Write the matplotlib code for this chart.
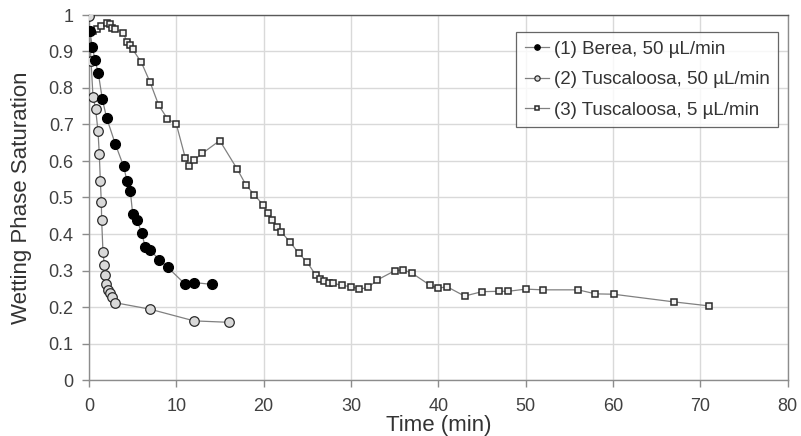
import matplotlib.pyplot as plt
import matplotlib.ticker as mticker

# (1) Berea, 50 uL/min
berea_t = [0.1, 0.38, 0.69, 1.07, 1.53, 2.02, 3.02, 3.97, 4.35, 4.73, 5.0, 5.53,
           6.03, 6.45, 7.03, 8.02, 9.0, 11.03, 12.03, 14.05]
berea_s = [0.955, 0.913, 0.877, 0.84, 0.769, 0.718, 0.646, 0.585, 0.545, 0.518, 0.455, 0.437,
           0.402, 0.364, 0.355, 0.33, 0.309, 0.262, 0.267, 0.262]

# (2) Tuscaloosa, 50 uL/min
tusc50_t = [0.0, 0.23, 0.46, 0.76, 1.03, 1.18, 1.3, 1.41, 1.45, 1.6, 1.76, 1.87,
            1.99, 2.21, 2.4, 2.63, 2.94, 6.99, 12.03, 16.04]
tusc50_s = [0.998, 0.874, 0.776, 0.742, 0.682, 0.618, 0.545, 0.488, 0.438, 0.351, 0.314, 0.288,
            0.264, 0.247, 0.238, 0.228, 0.212, 0.194, 0.162, 0.158]

# (3) Tuscaloosa, 5 uL/min
tusc5_t = [0.2, 0.42, 0.88, 1.41, 2.02, 2.4, 2.67, 2.94, 3.93, 4.32, 4.66, 5.0,
           6.0, 6.99, 7.98, 8.97, 10.0, 11.03, 11.45, 11.99, 12.98, 14.97, 16.99, 17.98,
           18.94, 19.93, 20.47, 21.0, 21.5, 22.03, 23.02, 24.02, 25.0, 25.97, 26.46, 26.96,
           27.45, 27.99, 28.98, 29.98, 30.97, 32.0, 33.0, 34.98, 35.97, 37.03, 39.02, 40.0,
           40.96, 43.0, 45.0, 46.96, 48.0, 50.0, 51.96, 56.0, 57.99, 60.06, 66.97, 71.0]
tusc5_s = [0.955, 0.957, 0.963, 0.97, 0.979, 0.975, 0.965, 0.961, 0.952, 0.927, 0.919, 0.906,
           0.87, 0.816, 0.753, 0.716, 0.701, 0.608, 0.585, 0.602, 0.621, 0.656, 0.577, 0.534,
           0.507, 0.48, 0.458, 0.437, 0.42, 0.405, 0.378, 0.347, 0.322, 0.287, 0.276, 0.27,
           0.267, 0.265, 0.259, 0.256, 0.249, 0.254, 0.274, 0.299, 0.302, 0.292, 0.26, 0.251,
           0.256, 0.23, 0.242, 0.243, 0.243, 0.249, 0.247, 0.247, 0.236, 0.235, 0.214, 0.203]

plt.rcParams['font.family'] = ['Liberation Sans', 'DejaVu Sans']

fig = plt.figure(figsize=(8.01, 4.36), dpi=100)
ax = fig.add_axes([89 / 801, 56 / 436, (787.7 - 89) / 801, (380 - 15) / 436])

line_c = '#808080'
edge_c = '#2b2b2b'

ax.plot(tusc5_t, tusc5_s, color=line_c, lw=0.9, marker='s', ms=5.0,
        mfc='#f2f2f2', mec=edge_c, mew=1.1, label='(3) Tuscaloosa, 5 µL/min', zorder=3)
ax.plot(tusc50_t, tusc50_s, color=line_c, lw=0.9, marker='o', ms=6.9,
        mfc='#d9d9d9', mec=edge_c, mew=0.9, label='(2) Tuscaloosa, 50 µL/min', zorder=4)
ax.plot(berea_t, berea_s, color=line_c, lw=0.9, marker='o', ms=7.1,
        mfc='black', mec='black', mew=0.9, label='(1) Berea, 50 µL/min', zorder=5)

ax.set_xlim(0, 80)
ax.set_ylim(0, 1)
ax.xaxis.set_major_locator(mticker.MultipleLocator(10))
ax.yaxis.set_major_locator(mticker.MultipleLocator(0.1))
ax.yaxis.set_major_formatter(mticker.FuncFormatter(lambda v, p: f'{v:.1f}'.rstrip('0').rstrip('.') if v else '0'))

ax.grid(True, color='#d9d9d9', lw=1.0)
ax.set_axisbelow(True)
for side in ['left', 'bottom', 'right']:
    ax.spines[side].set_color('#8c8c8c')
    ax.spines[side].set_linewidth(1.0)
ax.spines['top'].set_color('#595959')
ax.spines['top'].set_linewidth(1.0)

ax.tick_params(axis='both', direction='out', length=5, width=1, color='#8c8c8c',
               labelsize=13, labelcolor='#404040')
ax.tick_params(axis='x', pad=8)
ax.tick_params(axis='y', pad=6)

ax.set_xlabel('Time (min)', fontsize=16, color='#333333', labelpad=0)
ax.set_ylabel('Wetting Phase Saturation', fontsize=16, color='#333333', labelpad=12)

handles, labels = ax.get_legend_handles_labels()
leg = ax.legend(handles[::-1], labels[::-1], loc='upper right', bbox_to_anchor=(0.986, 0.953),
                fontsize=13.5, frameon=True, fancybox=False, edgecolor='#404040',
                markerscale=0.55, handlelength=1.3, handletextpad=0.25, labelspacing=0.72,
                borderpad=0.45, borderaxespad=0)
leg.get_frame().set_linewidth(0.9)
for t in leg.get_texts():
    t.set_color('#333333')

fig.savefig('out.png', dpi=100)
